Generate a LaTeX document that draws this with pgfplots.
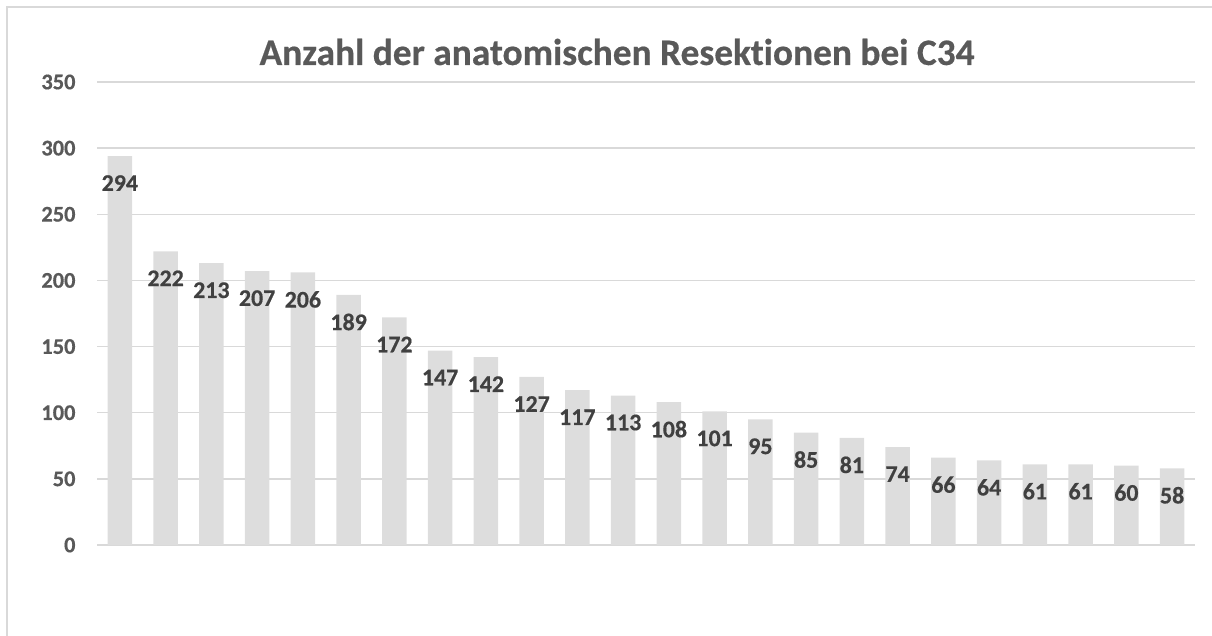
\documentclass[border=0pt]{standalone}
\usepackage{pgfplots}
\pgfplotsset{compat=1.18}
\usepackage{fontspec}
\setmainfont{Carlito}
\newfontfamily\heavy{Carlito}[Ligatures=NoCommon, BoldFeatures={FakeBold=0.5}]
\definecolor{barfill}{HTML}{DDDDDD}
\definecolor{gridc}{HTML}{D9D9D9}
\definecolor{ticktext}{HTML}{595959}
\definecolor{labtext}{HTML}{404040}

\begin{document}
\begin{tikzpicture}
\useasboundingbox (0,0) rectangle (1212bp,636bp);
% chart frame (top and left edges only, rest is cropped)
\draw[gridc, line width=2bp] (7bp,0) -- (7bp,629bp) -- (1212bp,629bp);
\begin{axis}[
  at={(97bp,91bp)}, anchor=south west,
  scale only axis, width=1098bp, height=463bp,
  xmin=-0.5, xmax=23.5, ymin=0, ymax=350,
  ytick={0,50,...,350}, xtick=\empty,
  ymajorgrids, grid style={gridc, line width=1.5bp},
  axis line style={draw=none}, major tick length=0pt,
  yticklabel={\pgfmathprintnumber[assume math mode=true]{\tick}},
  yticklabel style={font=\heavy\fontsize{22.5}{23}\selectfont\bfseries, text=ticktext, xshift=-18bp},
  ybar, bar width=24.5bp,
  nodes near coords={\pgfmathprintnumber[assume math mode=true]{\pgfplotspointmeta}},
  nodes near coords style={font=\heavy\fontsize{24}{24}\selectfont\bfseries, text=labtext,
    anchor=center, yshift=-27bp},
]
\addplot[fill=barfill, draw=none] coordinates {
  (0,294) (1,222) (2,213) (3,207) (4,206) (5,189) (6,172) (7,147)
  (8,142) (9,127) (10,117) (11,113) (12,108) (13,101) (14,95) (15,85)
  (16,81) (17,74) (18,66) (19,64) (20,61) (21,61) (22,60) (23,58)
};
\end{axis}
\node[font=\heavy\fontsize{37.5}{38}\selectfont\bfseries, text=ticktext] at (617bp,584bp)
  {Anzahl der anatomischen Resektionen bei C34};
\end{tikzpicture}
\end{document}
